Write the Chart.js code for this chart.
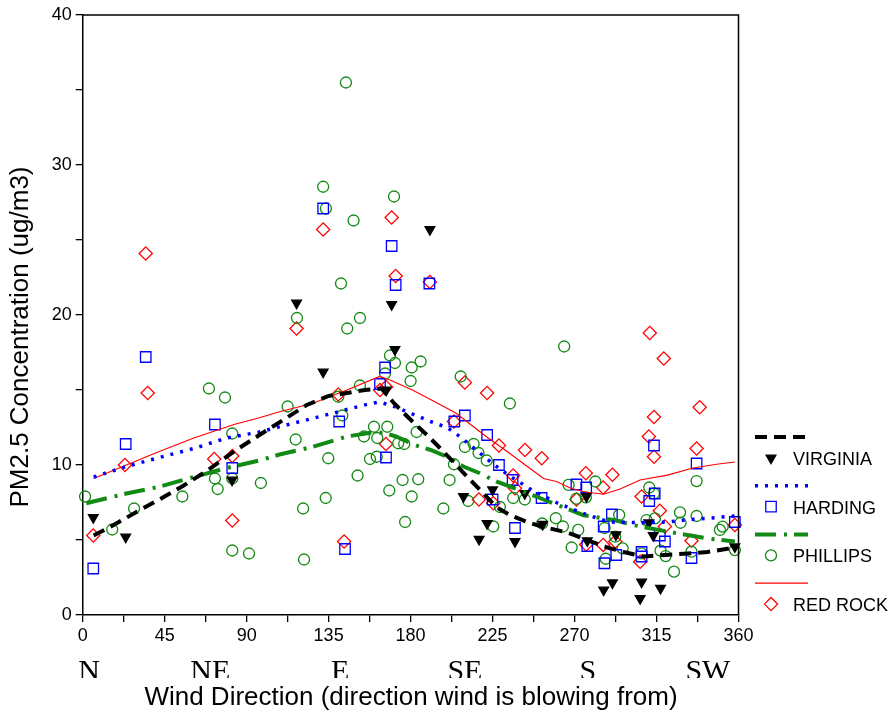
<!DOCTYPE html>
<html lang="en">
<head>
    <meta charset="UTF-8">
    <title>PM2.5 Concentration vs Wind Direction</title>
    <script src="https://cdn.jsdelivr.net/npm/chart.js@4.4.1/dist/chart.umd.min.js"></script>
    <style>
        html, body { margin: 0; padding: 0; background: #fff; }
        canvas { display: block; }
    </style>
</head>
<body>
    <canvas id="pmChart" width="889" height="713"></canvas>

    <script>
        // observed points [wind direction (deg), PM2.5 (ug/m3)]
        const virginiaObs = [
            [5.8, 6.5], [23.6, 5.2], [82, 9.0], [117.4, 20.8], [132, 16.2], [166.6, 15.0],
            [169.6, 20.7], [171.4, 17.7], [190.6, 25.7], [209, 7.9], [217.6, 5.05], [222, 6.1],
            [225, 8.35], [237.3, 4.9], [242.7, 8.1], [252.5, 6.05], [276.5, 7.9], [277, 4.95],
            [286, 1.67], [290.8, 2.15], [292.7, 5.35], [306.8, 2.2], [306, 1.1], [310.8, 6.15],
            [313.2, 5.3], [317.2, 1.78], [358, 4.55]
        ];
        const hardingObs = [
            [5.8, 3.1], [23.6, 11.4], [34.6, 17.2], [72.6, 12.7], [82.1, 9.8], [132, 27.1],
            [140.8, 12.9], [144, 4.4], [163.2, 15.4], [166, 16.5], [166.5, 10.5], [169.6, 24.6],
            [171.8, 22.0], [190.3, 22.1], [204, 12.9], [209.8, 13.3], [222, 12.0], [225, 7.7],
            [228.5, 10.0], [236, 9.0], [237.3, 5.8], [251.9, 7.8], [271, 8.7], [276.4, 8.5],
            [277, 4.6], [286, 5.9], [286.4, 3.45], [290.5, 6.7], [292.9, 4.0], [306.8, 4.2],
            [306.8, 3.9], [311, 7.6], [313.6, 11.3], [314, 8.1], [316.8, 5.3], [319.6, 4.9],
            [334.2, 3.8], [337, 10.1], [358, 6.2]
        ];
        const phillipsObs = [
            [1.3, 7.9], [16.2, 5.7], [28.2, 7.1], [54.7, 7.9], [69.3, 15.1], [78.1, 14.5],
            [82.1, 12.1], [72.6, 9.1], [74.1, 8.4], [82.1, 9.1], [82.1, 4.3], [91.3, 4.1],
            [97.8, 8.8], [112.5, 13.9], [116.9, 11.7], [117.6, 19.8], [121, 7.1], [121.5, 3.7],
            [144.5, 35.5], [132, 28.55], [133.5, 27.1], [148.7, 26.3], [170.9, 27.9], [141.8, 22.1],
            [152.2, 19.8], [145.2, 19.1], [168.7, 17.3], [171.4, 16.8], [185.5, 16.9], [180.6, 16.5],
            [166, 16.1], [180, 15.6], [207.5, 15.9], [234.5, 14.1], [152.2, 15.3], [140.3, 14.55],
            [142.5, 13.3], [159.9, 12.55], [167.2, 12.55], [183.3, 12.2], [154.4, 11.9], [161.7, 11.8],
            [173.2, 11.45], [176.5, 11.4], [134.8, 10.45], [157.7, 10.4], [161.4, 10.55], [150.9, 9.3],
            [175.6, 9.0], [184.2, 9.05], [168.3, 8.3], [133.4, 7.8], [180.6, 7.9], [201.4, 9.0],
            [209.8, 11.2], [214.6, 11.4], [217.3, 10.8], [221.8, 10.3], [203.8, 10.05], [198, 7.1],
            [177, 6.2], [211.6, 7.6], [229, 7.2], [225.4, 5.9], [236.3, 7.8], [242.7, 7.7],
            [252.2, 6.1], [259.7, 6.45], [263.6, 5.9], [272, 5.67], [268.4, 4.5], [266.7, 8.67],
            [281.4, 8.9], [270.9, 7.75], [276.2, 7.84], [264.3, 17.9], [286.5, 5.8], [294.5, 6.67],
            [292.3, 5.22], [287.1, 3.75], [296.4, 4.44], [306.8, 4.11], [311, 8.5], [313.6, 8.1],
            [309.5, 6.33], [314.1, 6.44], [317.2, 4.29], [320, 3.93], [324.6, 2.89], [327.9, 6.84],
            [328.2, 6.15], [337, 8.93], [337, 6.6], [334.2, 4.22], [349.8, 5.67], [351.3, 5.89],
            [358, 4.33]
        ];
        const redRockObs = [
            [5.8, 5.3], [23.2, 10.0], [34.6, 24.1], [35.7, 14.8], [72.2, 10.4], [82.1, 10.6],
            [82.1, 6.3], [117.4, 19.1], [132, 25.7], [140.3, 14.7], [143.5, 4.9], [163.2, 15.0],
            [166.5, 15.2], [166.5, 11.4], [169.6, 26.5], [171.8, 22.6], [190.6, 22.2], [203.8, 12.9],
            [209.8, 15.5], [217.5, 7.7], [222, 14.8], [225.4, 7.45], [228.5, 11.3], [236.3, 9.3],
            [237.3, 8.45], [242.8, 11.0], [252, 10.45], [271.1, 7.7], [276.2, 9.45], [276.4, 4.7],
            [285.7, 8.5], [285.7, 4.67], [290.8, 9.35], [292.4, 4.9], [306, 3.55], [306.8, 7.9],
            [310.8, 11.9], [311.3, 18.8], [313.6, 13.2], [313.6, 10.55], [316.8, 6.95], [319, 17.1],
            [319.6, 5.9], [334.2, 4.95], [337, 11.1], [338.7, 13.85], [358, 6.0]
        ];

        // smoothed curves
        const virginiaFit = [
            [6, 5.3], [17, 6.0], [30, 6.9], [42, 7.7], [55, 8.6], [68, 9.6], [83, 10.9], [97, 12.0],
            [110, 13.0], [123, 14.0], [135, 14.6], [145, 14.8], [155, 15.0], [164, 15.1], [171, 14.1],
            [181, 12.9], [189, 12.0], [198, 10.9], [205, 10.0], [212, 9.1], [220, 8.1], [227, 7.2],
            [234, 6.7], [244, 6.2], [252, 5.9], [266, 5.5], [277, 5.0], [288, 4.5], [297, 4.2],
            [308, 3.9], [320, 4.0], [332, 4.1], [343, 4.2], [358, 4.5]
        ];
        const hardingFit = [
            [6, 9.2], [24, 9.9], [42, 10.5], [61, 11.1], [79, 11.8], [97, 12.2], [108, 12.55],
            [126, 13.1], [145, 13.7], [158, 14.1], [163, 14.2], [171, 13.9], [181, 13.4], [191, 12.9],
            [200, 12.5], [207, 11.9], [216, 11.0], [225, 10.1], [234, 9.3], [247, 8.3], [260, 7.5],
            [274, 6.8], [289, 6.2], [306, 6.15], [321, 6.2], [332, 6.35], [343, 6.45], [358, 6.6]
        ];
        const phillipsFit = [
            [2, 7.45], [24, 8.1], [42, 8.55], [61, 9.2], [79, 9.8], [97, 10.3], [108, 10.7],
            [126, 11.2], [145, 11.9], [158, 12.15], [165, 12.15], [172, 11.9], [183, 11.3], [191, 11.0],
            [200, 10.55], [209, 9.9], [218, 9.45], [227, 8.9], [236, 8.5], [253, 7.7], [275, 6.65],
            [293, 6.3], [302, 6.0], [326, 5.45], [343, 5.1], [358, 4.9]
        ];
        const redRockFit = [
            [6, 9.1], [24, 10.0], [42, 10.9], [61, 11.8], [83, 12.7], [97, 13.15], [108, 13.55],
            [126, 14.1], [145, 15.0], [163, 15.9], [169, 15.65], [181, 15.0], [192, 14.3], [205, 13.45],
            [214, 12.6], [222, 11.85], [233, 10.9], [243, 10.0], [253, 9.1], [260, 8.9], [268, 8.45],
            [276, 8.2], [286, 8.05], [295, 8.4], [306, 9.0], [321, 9.33], [335, 9.8], [348, 10.05],
            [358, 10.2]
        ];

        const siteNames = ['VIRGINIA', 'HARDING', 'PHILLIPS', 'RED ROCK'];
        const cardinalLabels = ['N', 'NE', 'E', 'SE', 'S', 'SW'];
        const cardinalDeg = [3.5, 70, 141.3, 209.8, 277.3, 343.2];
        const xTitle = 'Wind Direction (direction wind is blowing from)';
        const yTitle = 'PM2.5 Concentration (ug/m3)';

        const GREEN = '#138a13';
        const sans = '"Liberation Sans", Arial, sans-serif';

        // line + marker style per site, same order as siteNames
        const styles = [
            { color: '#000', width: 4, dash: [12, 7], marker: 'triangle', radius: 5.6, rot: 180, fill: '#000' },
            { color: '#0000ff', width: 3.5, dash: [3, 7], marker: 'rect', radius: 7.4, rot: 0, fill: 'rgba(0,0,0,0)' },
            { color: GREEN, width: 4, dash: [21, 8, 3, 7], marker: 'circle', radius: 5.5, rot: 0, fill: 'rgba(0,0,0,0)' },
            { color: '#ff0000', width: 1.2, dash: [], marker: 'rectRot', radius: 6.6, rot: 0, fill: 'rgba(0,0,0,0)' }
        ];

        const toXY = arr => arr.map(p => ({ x: p[0], y: p[1] }));
        const obs = [virginiaObs, hardingObs, phillipsObs, redRockObs];
        const fits = [virginiaFit, hardingFit, phillipsFit, redRockFit];

        const datasets = [];
        siteNames.forEach((name, i) => {
            const s = styles[i];
            datasets.push({
                label: name + ' fit',
                data: toXY(fits[i]),
                showLine: true,
                pointRadius: 0,
                borderColor: s.color,
                borderWidth: s.width,
                borderDash: s.dash,
                borderCapStyle: 'butt',
                fill: false,
                order: 0
            });
            datasets.push({
                label: name,
                data: toXY(obs[i]),
                showLine: false,
                pointStyle: s.marker,
                pointRadius: s.radius,
                pointRotation: s.rot,
                pointBackgroundColor: s.fill,
                pointBorderColor: s.color,
                pointBorderWidth: 1.3,
                clip: false,
                order: 1
            });
        });

        // frame, cardinal labels, axis titles and the legend
        const decorations = {
            id: 'decorations',
            afterDraw(chart) {
                const { ctx, chartArea: a } = chart;
                const x = chart.scales.x;
                ctx.save();
                ctx.strokeStyle = '#000';
                ctx.lineWidth = 1.5;
                ctx.beginPath();
                ctx.moveTo(a.left, a.top);
                ctx.lineTo(a.right, a.top);
                ctx.lineTo(a.right, a.bottom);
                ctx.stroke();

                ctx.fillStyle = '#000';
                ctx.textAlign = 'center';
                ctx.textBaseline = 'alphabetic';

                ctx.save();
                ctx.beginPath();
                ctx.rect(0, 645, 889, 33);
                ctx.clip();
                ctx.font = '30px "Liberation Serif", "Times New Roman", serif';
                cardinalLabels.forEach((t, i) => {
                    ctx.fillText(t, x.getPixelForValue(cardinalDeg[i]), 680);
                });
                ctx.restore();

                ctx.font = '26px ' + sans;
                ctx.fillText(xTitle, 411, 705);

                ctx.save();
                ctx.translate(28, 337);
                ctx.rotate(-Math.PI / 2);
                ctx.fillText(yTitle, 0, 0);
                ctx.restore();

                // legend
                ctx.textAlign = 'left';
                ctx.font = '18px ' + sans;
                siteNames.forEach((name, i) => {
                    const s = styles[i];
                    const ly = 437 + i * 48.7;
                    const my = ly + 21;
                    ctx.strokeStyle = s.color;
                    ctx.lineWidth = s.width;
                    ctx.setLineDash(s.dash);
                    ctx.beginPath();
                    ctx.moveTo(755, ly);
                    ctx.lineTo(808, ly);
                    ctx.stroke();
                    ctx.setLineDash([]);

                    ctx.fillStyle = s.fill;
                    ctx.strokeStyle = s.color;
                    ctx.lineWidth = 1.3;
                    Chart.helpers.drawPoint(ctx, {
                        pointStyle: s.marker,
                        radius: s.radius,
                        rotation: s.rot,
                        borderWidth: 1.3
                    }, 771, my);

                    ctx.fillStyle = '#000';
                    ctx.fillText(name, 793, my + 7);
                });
                ctx.restore();
            }
        };

        const tickFont = { family: sans, size: 18 };

        new Chart(document.getElementById('pmChart'), {
            type: 'scatter',
            data: { datasets: datasets },
            options: {
                responsive: false,
                animation: false,
                layout: { padding: { left: 0, top: 15, right: 150.5, bottom: 0 } },
                plugins: {
                    legend: { display: false },
                    tooltip: { enabled: false }
                },
                scales: {
                    x: {
                        type: 'linear',
                        min: 0,
                        max: 360,
                        afterFit: scale => { scale.height = 98; },
                        ticks: {
                            stepSize: 22.5,
                            autoSkip: false,
                            maxRotation: 0,
                            padding: 3,
                            color: '#000',
                            font: tickFont,
                            callback: v => (v % 45 === 0 ? v : '')
                        },
                        grid: { drawOnChartArea: false, tickLength: 7, color: '#000', lineWidth: 1.3 },
                        border: { color: '#000', width: 1.5 }
                    },
                    y: {
                        min: 0,
                        max: 40,
                        afterFit: scale => { scale.width = 82.7; },
                        ticks: {
                            stepSize: 5,
                            padding: 4,
                            color: '#000',
                            font: tickFont,
                            callback: v => (v % 10 === 0 ? v : '')
                        },
                        grid: { drawOnChartArea: false, tickLength: 7, color: '#000', lineWidth: 1.3 },
                        border: { color: '#000', width: 1.5 }
                    }
                }
            },
            plugins: [decorations]
        });
    </script>
</body>
</html>
